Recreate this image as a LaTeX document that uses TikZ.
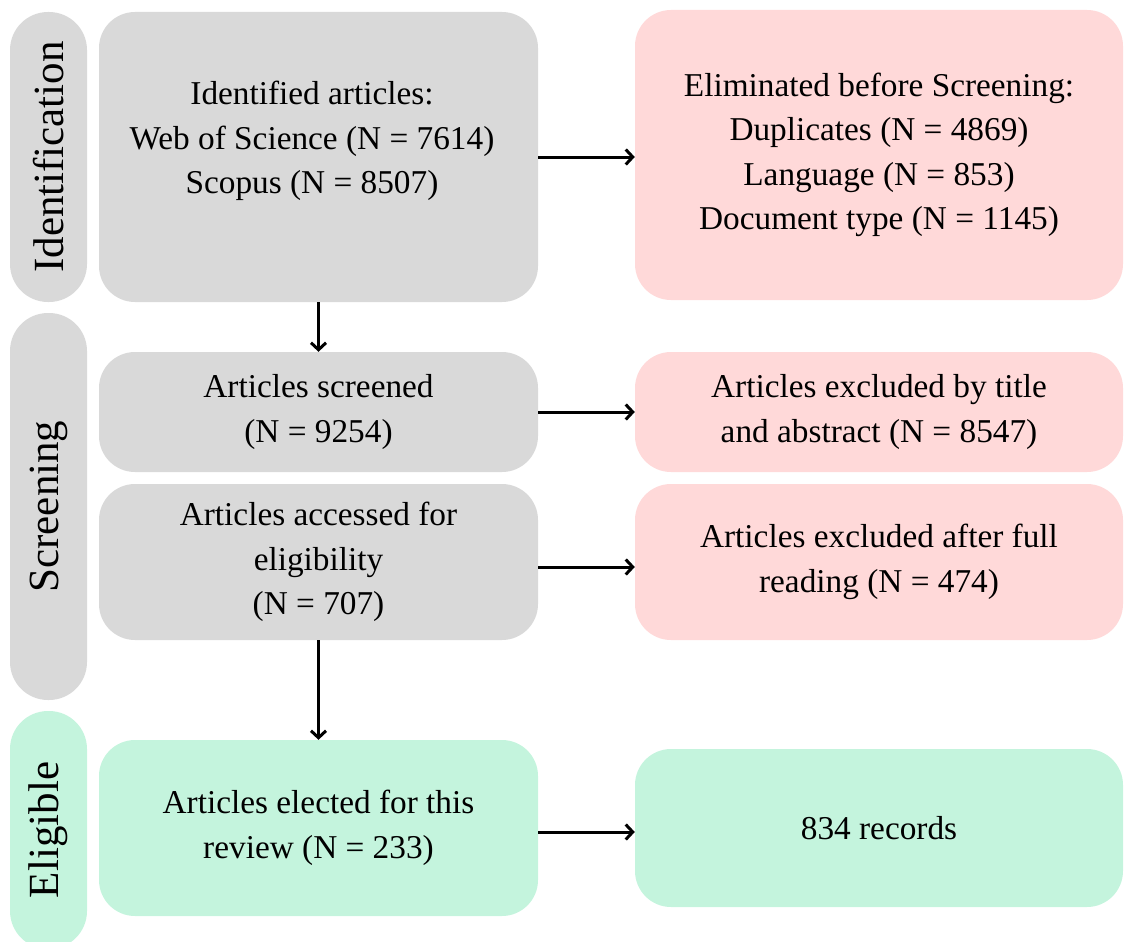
\documentclass[tikz,border=0pt]{standalone}
\usepackage{fontspec}
\setmainfont{Liberation Serif}
\usetikzlibrary{arrows.meta}
\definecolor{boxgray}{HTML}{D9D9D9}
\definecolor{boxpink}{HTML}{FFD9D9}
\definecolor{boxgreen}{HTML}{C4F4DD}
\tikzset{
  mainbox/.style={rounded corners=36pt, inner sep=0pt, align=center,
    font=\fontsize{33.3}{44.5}\selectfont},
  sidebox/.style={rounded corners=38pt, inner sep=0pt, rotate=90,
    minimum height=77pt, font=\fontsize{43}{50}\selectfont},
  flow/.style={line width=3pt, -{Straight Barb[length=7pt,width=15pt,line width=3pt]}},
}
\begin{document}
\begin{tikzpicture}[x=1pt,y=-1pt]
\useasboundingbox (0,0) rectangle (1125,942);
\clip (0,0) rectangle (1125,942);
% side labels
\node[sidebox, fill=boxgray, minimum width=290pt] (sid) at (48.5,157) {Identification};
\node[sidebox, fill=boxgray, minimum width=387pt] (ssc) at (48.5,506.5) {Screening};
\node[sidebox, fill=boxgreen, minimum width=238pt] (sel) at (48.5,830) {Eligible};
% left column
\node[mainbox, fill=boxgray, minimum width=439pt, minimum height=290pt] (b1) at (318.5,157) {};
\node[align=center, font=\fontsize{33.3}{44.5}\selectfont] (b1t) at (312,141) {Identified articles:\\Web of Science (N = 7614)\\Scopus (N = 8507)};
\node[mainbox, fill=boxgray, minimum width=439pt, minimum height=120pt] (b2) at (318.5,412) {Articles screened\\(N = 9254)};
\node[mainbox, fill=boxgray, minimum width=439pt, minimum height=156pt] (b3) at (318.5,562) {Articles accessed for\\eligibility\\(N = 707)};
\node[mainbox, fill=boxgreen, minimum width=439pt, minimum height=176pt] (b4) at (318.5,828) {Articles elected for this\\review (N = 233)};
% right column
\node[mainbox, fill=boxpink, minimum width=488pt, minimum height=290pt] (r1) at (879,155) {Eliminated before Screening:\\Duplicates (N = 4869)\\Language (N = 853)\\Document type (N = 1145)};
\node[mainbox, fill=boxpink, minimum width=488pt, minimum height=120pt] (r2) at (879,412) {Articles excluded by title\\and abstract (N = 8547)};
\node[mainbox, fill=boxpink, minimum width=488pt, minimum height=156pt] (r3) at (879,562) {Articles excluded after full\\reading (N = 474)};
\node[mainbox, fill=boxgreen, minimum width=488pt, minimum height=158pt] (r4) at (879,828) {834 records};
% connectors
\draw[flow] (b1.east) -- (b1.east -| r1.west);
\draw[flow] (b2.east) -- (b2.east -| r2.west);
\draw[flow] ([yshift=-5pt]b3.east) -- ([yshift=-5pt]b3.east -| r3.west);
\draw[flow] ([yshift=-4pt]b4.east) -- ([yshift=-4pt]b4.east -| r4.west);
\draw[flow] (b1.south) -- (b2.north);
\draw[flow] (b3.south) -- (b4.north);
\end{tikzpicture}
\end{document}
